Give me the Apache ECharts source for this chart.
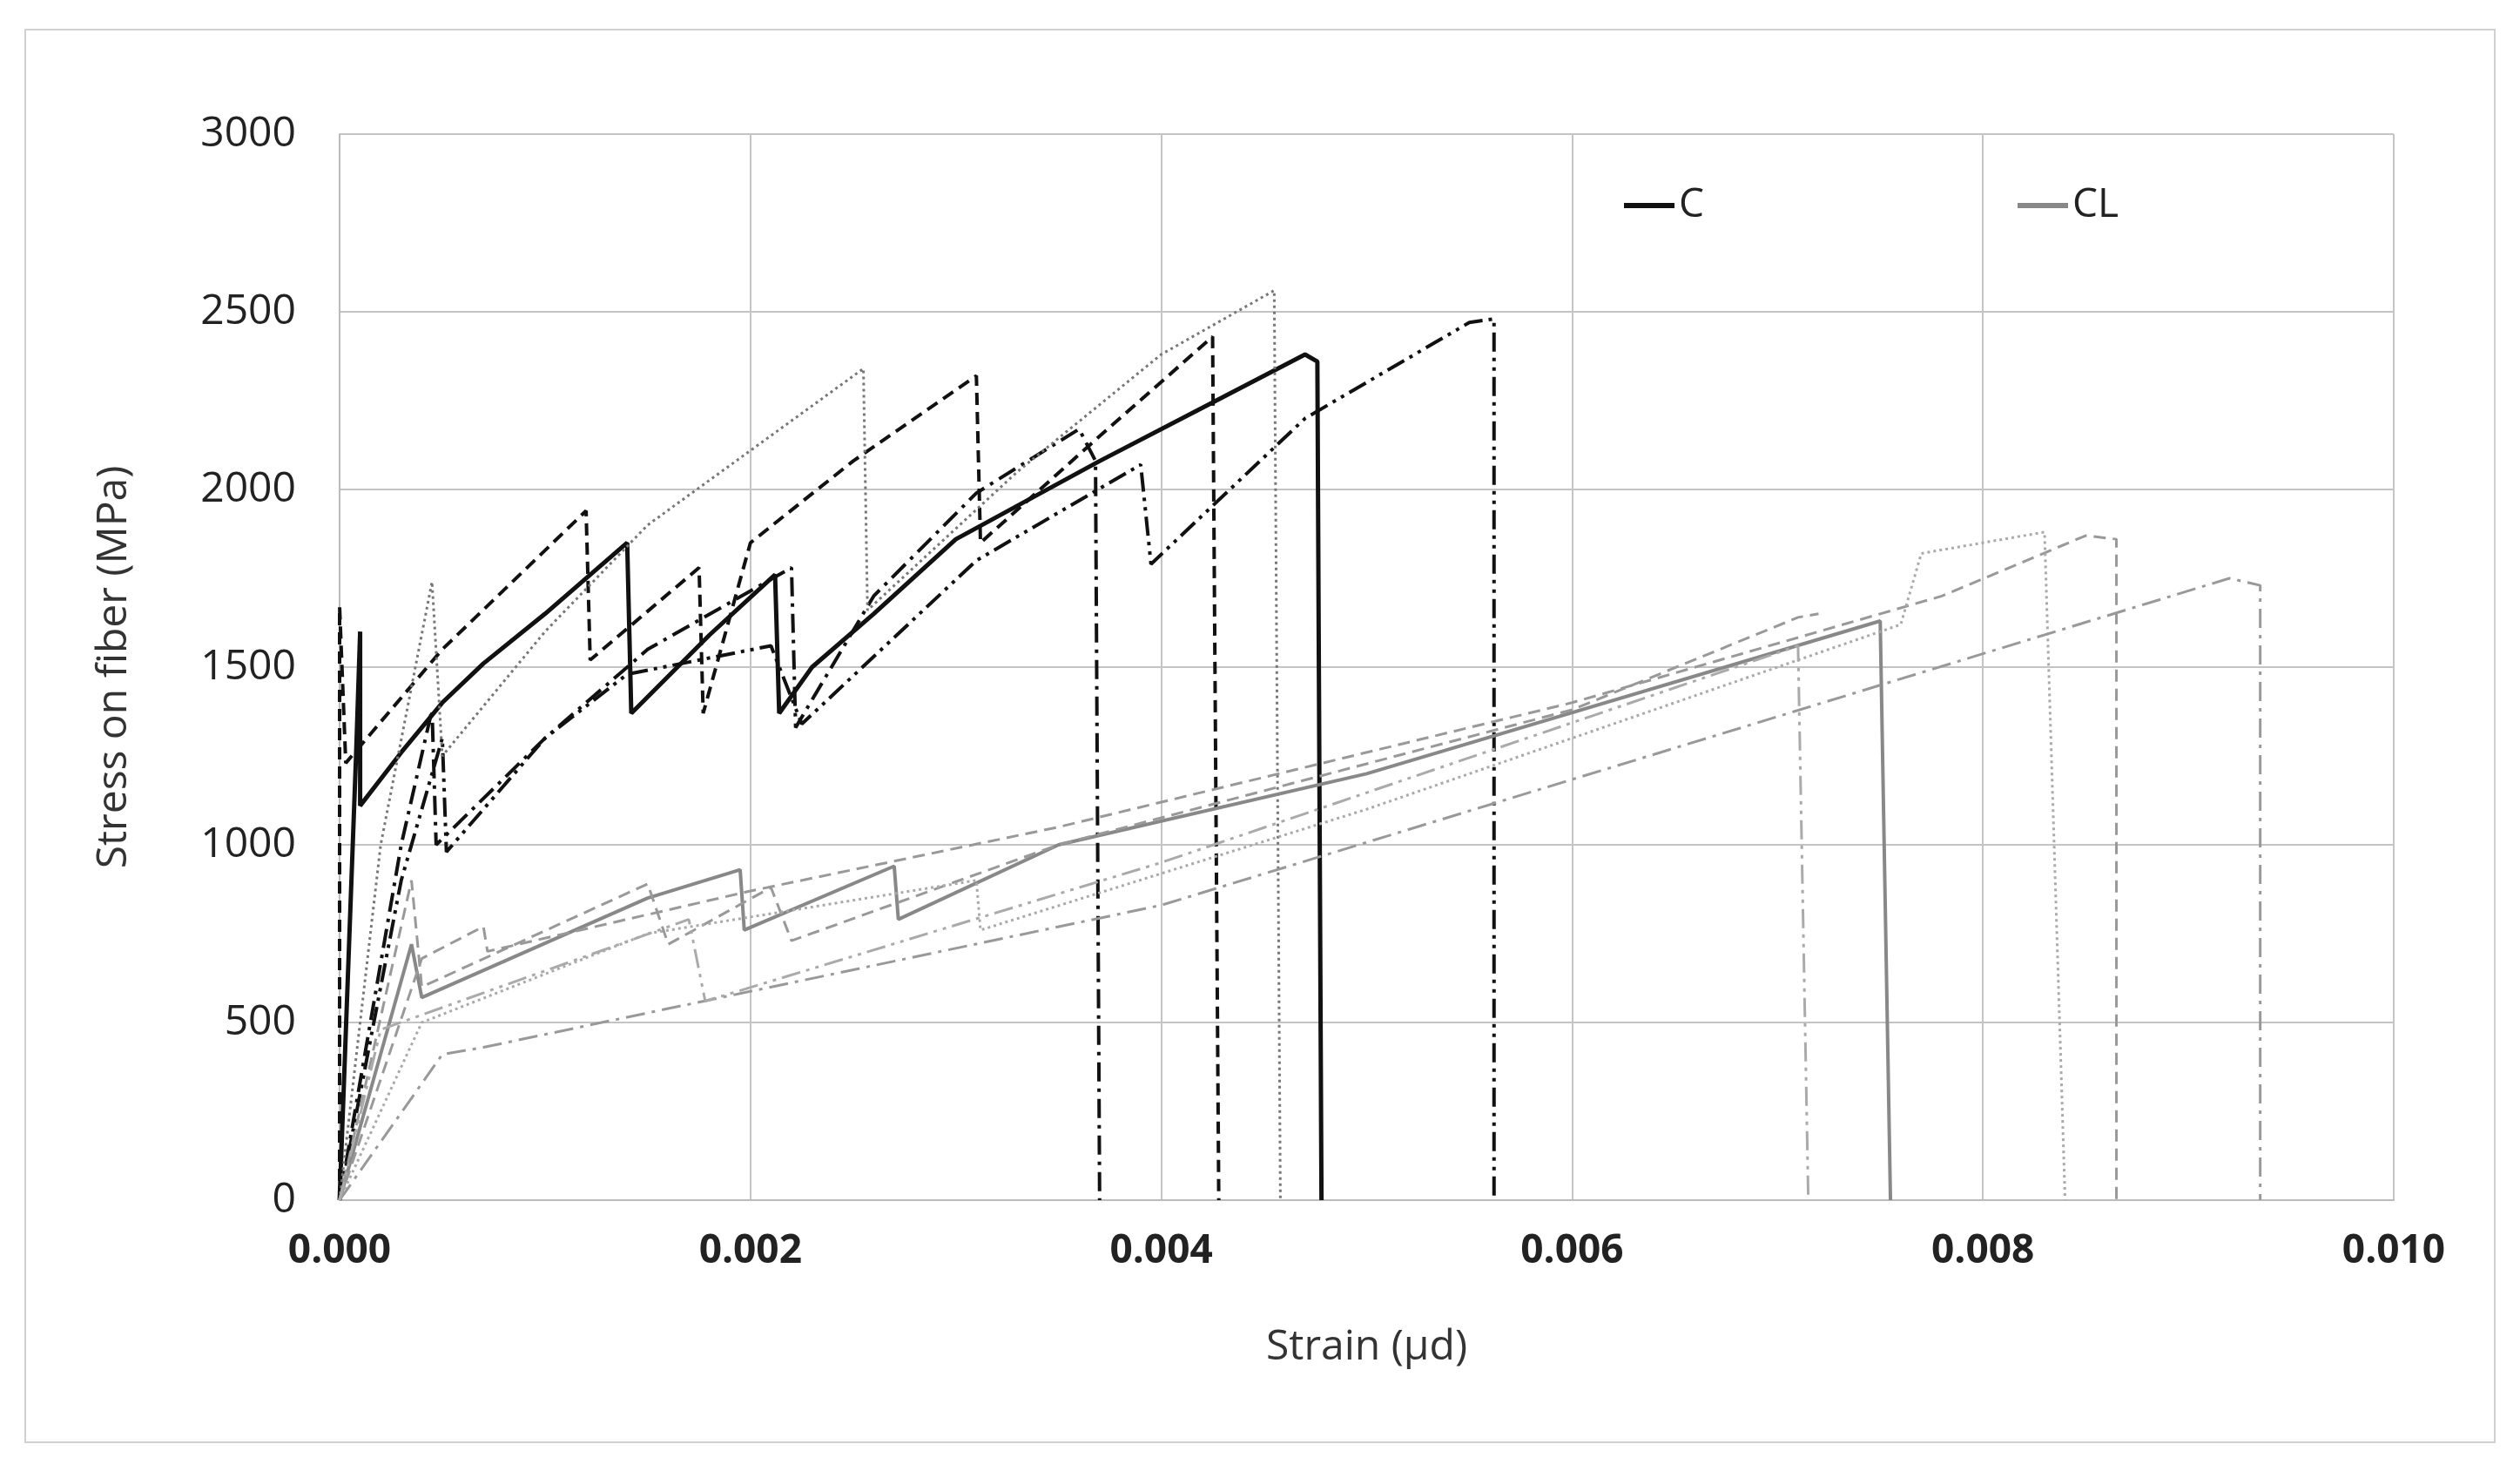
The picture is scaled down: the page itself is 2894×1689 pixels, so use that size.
<!DOCTYPE html>
<html><head><meta charset="utf-8">
<script src="https://cdn.jsdelivr.net/npm/echarts@6/dist/echarts.min.js"></script>
<style>html,body{margin:0;background:#fff}#main{width:2894px;height:1689px}
#box{position:absolute;left:28px;top:33px;width:2834px;height:1620px;border:2px solid #d0d0d0;pointer-events:none}</style>
</head><body><div id="main"></div><div id="box"></div>
<script>
// C group
var cSolid = [[0,0],[0.00008,1250],[0.0001,1600],[0.0001,1110],[0.0003,1260],[0.0005,1400],[0.0007,1510],[0.001,1650],[0.0014,1850],[0.00142,1370],[0.0018,1590],[0.00212,1760],[0.00214,1370],[0.0023,1500],[0.0026,1650],[0.003,1860],[0.0037,2080],[0.0042,2230],[0.0047,2380],[0.00476,2360],[0.00478,0]];
var cDash = [[0,0],[0,1670],[0.00003,1230],[0.0005,1550],[0.0012,1940],[0.00122,1520],[0.00175,1780],[0.00177,1370],[0.002,1850],[0.0025,2080],[0.0031,2320],[0.00312,1850],[0.0037,2150],[0.00425,2430],[0.00428,0]];
var cDashDot = [[0,0],[0.0003,1000],[0.00045,1380],[0.00047,1000],[0.001,1300],[0.0015,1550],[0.0022,1780],[0.00222,1330],[0.0026,1700],[0.0031,1990],[0.0036,2170],[0.00368,2080],[0.0037,0]];
var cDashDotDot = [[0,0],[0.0003,900],[0.0005,1300],[0.00052,980],[0.001,1300],[0.0014,1480],[0.0021,1560],[0.00225,1340],[0.0031,1800],[0.0039,2070],[0.00395,1790],[0.0047,2200],[0.0055,2470],[0.00562,2480],[0.00562,0]];
var cDot = [[0,0],[0.0002,1000],[0.00045,1740],[0.0005,1250],[0.001,1600],[0.0015,1900],[0.00255,2340],[0.00257,1660],[0.0033,2050],[0.004,2380],[0.00455,2560],[0.00458,0]];
// CL group
var clSolid = [[0,0],[0.00035,720],[0.0004,570],[0.0015,850],[0.00195,930],[0.00197,760],[0.0027,940],[0.00272,790],[0.0035,1000],[0.005,1200],[0.0075,1630],[0.00755,0]];
var clDashA = [[0,0],[0.0004,680],[0.0007,770],[0.00072,700],[0.002,870],[0.0035,1050],[0.006,1400],[0.0078,1700],[0.0085,1870],[0.00865,1860],[0.00865,0]];
var clDashB = [[0,0],[0.00035,900],[0.0004,600],[0.0015,890],[0.0016,720],[0.0021,880],[0.0022,730],[0.0035,1000],[0.006,1380],[0.0071,1640],[0.0072,1650]];
var clDot = [[0,0],[0.0004,500],[0.0015,750],[0.0031,900],[0.00312,760],[0.005,1100],[0.0076,1620],[0.0077,1820],[0.0083,1880],[0.0084,0]];
var clDashDot = [[0,0],[0.0005,410],[0.0007,430],[0.004,830],[0.0092,1750],[0.00935,1730],[0.00935,0]];
var clDashDotDot = [[0,0],[0.0002,480],[0.0017,790],[0.00178,560],[0.004,950],[0.0071,1560],[0.00715,0]];

var dash = [14,8], dashDot = [22,8,4,8], dashDotDot = [22,7,4,7,4,7], dot = [3,4];
function s(name, data, color, w, type){
  return {name:name, type:'line', data:data, showSymbol:false, symbol:'none', animation:false,
    lineStyle:{color:color, width:w, type:type}, itemStyle:{color:color}};
}
var chart = echarts.init(document.getElementById('main'));
chart.setOption({
  backgroundColor:'#fff',
  textStyle:{fontFamily:'Open Sans'},
  grid:{left:390, right:145, top:154, bottom:311},
  legend:[
    {data:['C'], left:1860, top:208, itemWidth:58, itemHeight:6, icon:'rect', textStyle:{fontSize:46,color:'#222'}},
    {data:['CL'], left:2312, top:208, itemWidth:58, itemHeight:6, icon:'rect', textStyle:{fontSize:46,color:'#222'}}
  ],
  xAxis:{type:'value', min:0, max:0.01, interval:0.002, name:'Strain (μd)', nameLocation:'middle', nameGap:145,
    nameTextStyle:{fontSize:48,color:'#333'},
    axisLabel:{fontSize:46, fontWeight:'bold', color:'#222', margin:36, formatter:function(v){return v.toFixed(3);}},
    axisLine:{lineStyle:{color:'#bbb',width:2}}, axisTick:{show:false},
    splitLine:{lineStyle:{color:'#c4c4c4',width:2}}},
  yAxis:{type:'value', min:0, max:3000, interval:500, name:'Stress on fiber (MPa)', nameLocation:'middle', nameGap:235,
    nameTextStyle:{fontSize:48,color:'#333'},
    axisLabel:{fontSize:48, color:'#222', margin:50, formatter:function(v){return String(v);}},
    axisLine:{show:true, lineStyle:{color:'#bbb',width:2}}, axisTick:{show:false},
    splitLine:{lineStyle:{color:'#c4c4c4',width:2}}},
  series:[
    s('C', cSolid, '#111', 5, 'solid'),
    s('', cDash, '#111', 4, dash),
    s('', cDashDot, '#111', 4, dashDot),
    s('', cDashDotDot, '#111', 4, dashDotDot),
    s('', cDot, '#777', 3, dot),
    s('CL', clSolid, '#888', 4, 'solid'),
    s('', clDashA, '#999', 3, dash),
    s('', clDashB, '#999', 3, dash),
    s('', clDot, '#aaa', 3, dot),
    s('', clDashDot, '#999', 3, dashDot),
    s('', clDashDotDot, '#aaa', 3, dashDotDot)
  ]
});
</script></body></html>
